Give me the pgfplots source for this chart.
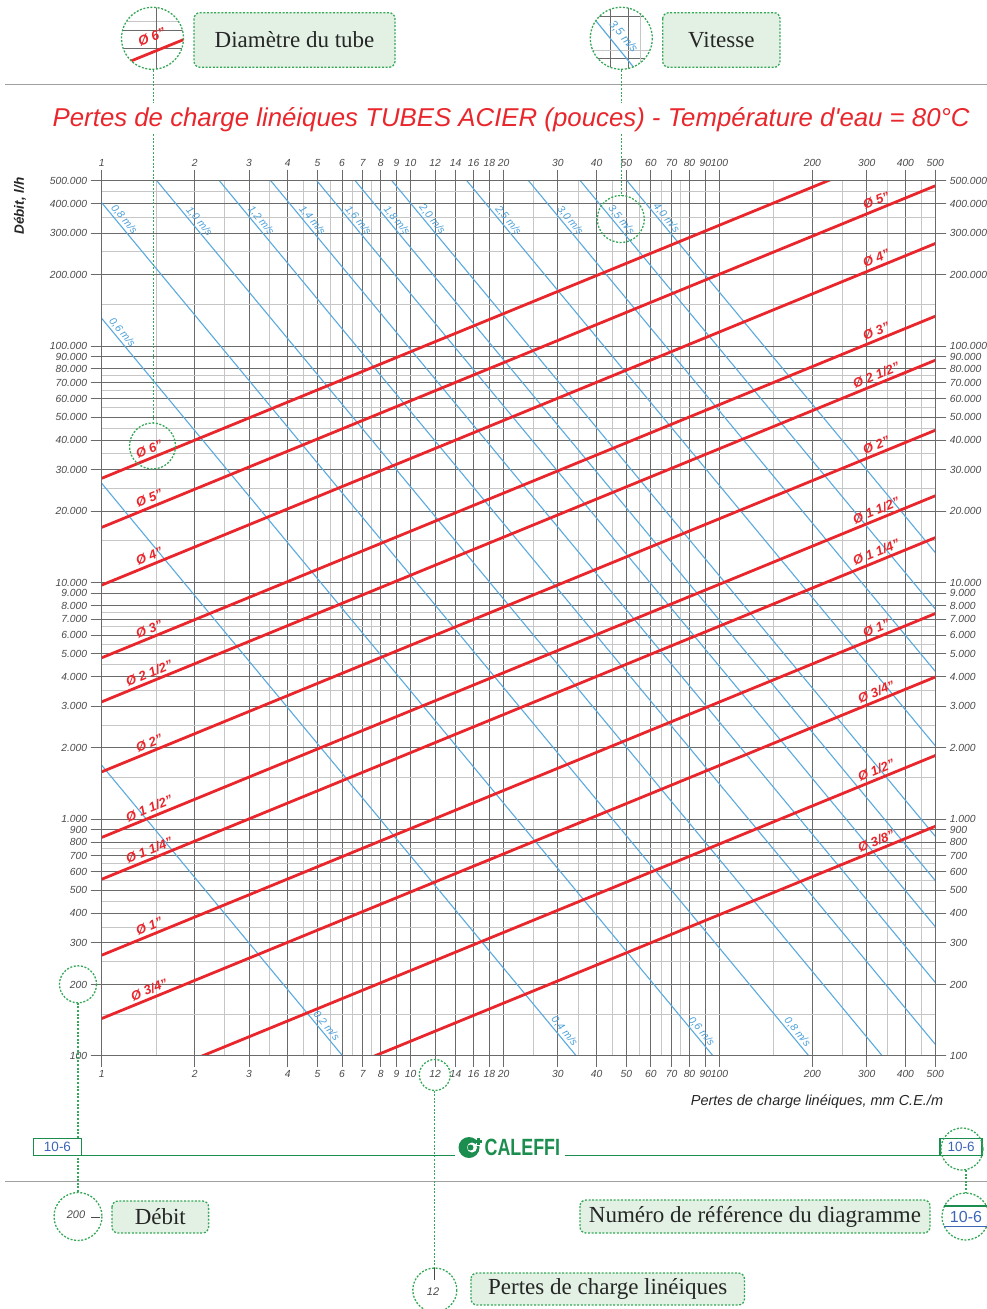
\documentclass[border=0pt]{standalone}
\usepackage{fontspec}
\usepackage{pgfplots}
\pgfplotsset{compat=1.18}
\setmainfont{Liberation Sans}
\newfontfamily\arial{Liberation Sans}
\newfontfamily\tserif{Liberation Serif}
\definecolor{redl}{HTML}{E8262C}
\definecolor{bluel}{HTML}{5AAADF}
\definecolor{bluet}{HTML}{4A9FDA}
\definecolor{gmaj}{HTML}{6A6A6A}
\definecolor{gmin}{HTML}{C6C6C6}
\definecolor{tickc}{HTML}{4A4A4A}
\definecolor{gdash}{HTML}{35A857}
\definecolor{gfill}{HTML}{E3F1E5}
\definecolor{cgreen}{HTML}{1B8E4F}
\definecolor{refblue}{HTML}{3D66B8}
\definecolor{sepgray}{HTML}{A0A0A0}
\tikzset{
  redlab/.style={pos=#1, sloped, above, inner sep=2.5pt, text=redl, font=\arial\bfseries\itshape\fontsize{13}{15}\selectfont},
  bluelab/.style={pos=#1, sloped, above, inner sep=1.5pt, text=bluet, font=\arial\itshape\fontsize{10.5}{12}\selectfont},
  redline/.style={draw=redl, line width=2.8pt},
  blueline/.style={draw=bluel, line width=1.1pt},
  gd/.style={draw=gdash, line width=1.3pt, dash pattern=on 2pt off 1.6pt},
  cbox/.style={gd, fill=gfill, rounded corners=6pt},
}
\begin{document}
\begin{tikzpicture}
\useasboundingbox (0pt,0pt) rectangle (987pt,-1309pt);
\begin{axis}[
    at={(101.7pt,-1055.7pt)}, anchor=south west,
    scale only axis, width=833.6pt, height=875pt,
    xmode=log, ymode=log,
    xmin=1, xmax=500, ymin=100, ymax=500000,
    xtick={1,2,3,4,5,6,7,8,9,10,12,14,16,18,20,30,40,50,60,70,80,90,100,200,300,400,500},
    xticklabels={1,2,3,4,5,6,7,8,9,10,12,14,16,18,20,30,40,50,60,70,80,90,100,200,300,400,500},
    ytick={100,200,300,400,500,600,700,800,900,1000,2000,3000,4000,5000,6000,7000,8000,9000,10000,20000,30000,40000,50000,60000,70000,80000,90000,100000,200000,300000,400000,500000},
    yticklabels={100,200,300,400,500,600,700,800,900,1.000,2.000,3.000,4.000,5.000,6.000,7.000,8.000,9.000,10.000,20.000,30.000,40.000,50.000,60.000,70.000,80.000,90.000,100.000,200.000,300.000,400.000,500.000},
    minor xtick={1.5,2.5,3.5,4.5,5.5,6.5,7.5,25,35,45,55,65,75,150,250,350,450},
    minor ytick={150,250,350,450,550,650,750,1500,2500,3500,4500,5500,6500,7500,15000,25000,35000,45000,55000,65000,75000,150000,250000,350000,450000},
    tick align=outside, tick pos=both,
    major tick length=11pt, minor tick length=0pt,
    axis line style={draw=gmaj, line width=1pt},
    tick style={draw=gmaj, line width=1pt},
    ticklabel style={font=\arial\itshape\fontsize{10.3}{12}\selectfont, text=tickc},
    grid=both,
    major grid style={draw=gmaj, line width=1pt},
    minor grid style={draw=gmin, line width=1pt},
]
% velocity lines
\addplot[blueline] coordinates {(1,1690) (500,0.0948)} node[bluelab=0.2634] {0,2 m/s};
\addplot[blueline] coordinates {(1,26280) (500,1.474)} node[bluelab=0.5489] {0,4 m/s};
\addplot[blueline] coordinates {(1,130900) (500,7.35)} node[bluelab=0.0184] {0,6 m/s} node[bluelab=0.7133] {0,6 m/s};
\addplot[blueline] coordinates {(1,403600) (500,22.6)} node[bluelab=0.0208] {0,8 m/s} node[bluelab=0.8285] {0,8 m/s};
\addplot[blueline] coordinates {(1,955000) (500,53.6)} node[bluelab=0.1108] {1,0 m/s};
\addplot[blueline] coordinates {(1,1990000) (500,111.7)} node[bluelab=0.185] {1,2 m/s};
\addplot[blueline] coordinates {(1,3639000) (500,204)} node[bluelab=0.2464] {1,4 m/s};
\addplot[blueline] coordinates {(1,6252000) (500,351)} node[bluelab=0.3016] {1,6 m/s};
\addplot[blueline] coordinates {(1,9806000) (500,550)} node[bluelab=0.3478] {1,8 m/s};
\addplot[blueline] coordinates {(1,15090000) (500,846)} node[bluelab=0.3904] {2,0 m/s};
\addplot[blueline] coordinates {(1,36390000) (500,2042)} node[bluelab=0.4816] {2,5 m/s};
\addplot[blueline] coordinates {(1,75110000) (500,4214)} node[bluelab=0.556] {3,0 m/s};
\addplot[blueline] coordinates {(1,137900000) (500,7737)} node[bluelab=0.6173] {3,5 m/s};
\addplot[blueline] coordinates {(1,238600000) (500,13390)} node[bluelab=0.6713] {4,0 m/s};
% pipe lines
\addplot[redline] coordinates {(1,27600) (500,767000)} node[redlab=0.0609] {Ø 6”};
\addplot[redline] coordinates {(1,17120) (500,475800)} node[redlab=0.0609] {Ø 5”} node[redlab=0.933] {Ø 5”};
\addplot[redline] coordinates {(1,9760) (500,271300)} node[redlab=0.0609] {Ø 4”} node[redlab=0.933] {Ø 4”};
\addplot[redline] coordinates {(1,4810) (500,133700)} node[redlab=0.0609] {Ø 3”} node[redlab=0.933] {Ø 3”};
\addplot[redline] coordinates {(1,3133) (500,87100)} node[redlab=0.0609] {Ø 2 1/2”} node[redlab=0.933] {Ø 2 1/2”};
\addplot[redline] coordinates {(1,1585) (500,44060)} node[redlab=0.0609] {Ø 2”} node[redlab=0.933] {Ø 2”};
\addplot[redline] coordinates {(1,837) (500,23280)} node[redlab=0.0609] {Ø 1 1/2”} node[redlab=0.933] {Ø 1 1/2”};
\addplot[redline] coordinates {(1,557) (500,15490)} node[redlab=0.0609] {Ø 1 1/4”} node[redlab=0.933] {Ø 1 1/4”};
\addplot[redline] coordinates {(1,266) (500,7400)} node[redlab=0.0609] {Ø 1”} node[redlab=0.933] {Ø 1”};
\addplot[redline] coordinates {(1,143.6) (500,3990)} node[redlab=0.0609] {Ø 3/4”} node[redlab=0.933] {Ø 3/4”};
\addplot[redline] coordinates {(1,66.8) (500,1858)} node[redlab=0.933] {Ø 1/2”};
\addplot[redline] coordinates {(1,33.6) (500,933)} node[redlab=0.933] {Ø 3/8”};
\end{axis}
\begin{axis}[
    at={(101.7pt,-1055.7pt)}, anchor=south west,
    scale only axis, width=833.6pt, height=875pt,
    xmode=log, ymode=log,
    xmin=1, xmax=500, ymin=100, ymax=500000,
    xtick={1,2,3,4,5,6,7,8,9,10,12,14,16,18,20,30,40,50,60,70,80,90,100,200,300,400,500},
    xticklabels={1,2,3,4,5,6,7,8,9,10,12,14,16,18,20,30,40,50,60,70,80,90,100,200,300,400,500},
    ytick={100,200,300,400,500,600,700,800,900,1000,2000,3000,4000,5000,6000,7000,8000,9000,10000,20000,30000,40000,50000,60000,70000,80000,90000,100000,200000,300000,400000,500000},
    yticklabels={100,200,300,400,500,600,700,800,900,1.000,2.000,3.000,4.000,5.000,6.000,7.000,8.000,9.000,10.000,20.000,30.000,40.000,50.000,60.000,70.000,80.000,90.000,100.000,200.000,300.000,400.000,500.000},
    minor xtick={}, minor ytick={},
    tick align=outside, tick pos=both,
    major tick length=11pt, minor tick length=0pt,
    axis line style={draw=gmaj, line width=1pt},
    tick style={draw=gmaj, line width=1pt},
    ticklabel style={font=\arial\itshape\fontsize{10.3}{12}\selectfont, text=tickc},
    xticklabel pos=right, yticklabel pos=right,
]
\addplot[draw=none] coordinates {(1,100)};
\end{axis}
\begin{scope}[x=1pt,y=-1pt]
% separators
\draw[sepgray, line width=1.2pt] (5,84.3) -- (987,84.3);
\draw[sepgray, line width=1.2pt] (5,1181.7) -- (987,1181.7);
% title
\node[anchor=base, inner sep=0pt, text=redl, font=\arial\itshape\fontsize{25.8}{30}\selectfont] at (511.2,126.7) {Pertes de charge linéiques TUBES ACIER (pouces) - Température d'eau = 80°C};
% axis titles
\node[rotate=90, inner sep=0pt, text=black!85, font=\arial\bfseries\itshape\fontsize{13.5}{16}\selectfont] at (20,206) {Débit, l/h};
\node[anchor=base east, inner sep=0pt, text=black!85, font=\arial\itshape\fontsize{14.5}{17}\selectfont] at (943.3,1105.3) {Pertes de charge linéiques, mm C.E./m};
% dashed leader lines
\draw[gd] (153.3,70) -- (153.3,103);
\draw[gd] (153.3,134) -- (153.3,423);
\draw[gd] (621.5,70) -- (621.5,103);
\draw[gd] (621.5,134) -- (621.5,195.5);
\draw[gd] (152.5,446) circle (23);
\draw[gd] (620.8,219) circle (23.5);
\draw[gd] (78,984.3) circle (18.5);
\draw[gd] (434.8,1075) circle (15.5);
\draw[gd] (78,1002.8) -- (78,1193);
\draw[gd] (434.8,1090.5) -- (434.8,1268);
\draw[gd] (966,1170) -- (966,1193);
% top icon 1
\begin{scope}
\clip (152.5,38.3) circle (31);
\draw[gmin, line width=1pt] (115,21) -- (190,21);
\draw[gmaj, line width=1pt] (115,30) -- (190,30) (115,48.3) -- (190,48.3) (156.7,0) -- (156.7,75);
\draw[redl, line width=2.8pt] (115,67.5) -- (190,37);
\node[rotate=22.3, inner sep=0pt, text=redl, font=\arial\bfseries\itshape\fontsize{13.5}{15}\selectfont] at (151.7,37) {Ø 6”};
\end{scope}
\draw[gd] (152.5,38.3) circle (31);
% top icon 2
\begin{scope}
\clip (621.3,38.3) circle (31);
\draw[gmaj, line width=1pt] (610,0) -- (610,75) (628.3,0) -- (628.3,75) (585,16.7) -- (660,16.7) (585,58.3) -- (660,58.3);
\draw[gmin, line width=1pt] (585,50) -- (660,50) (640,0) -- (640,75);
\draw[bluel, line width=1.2pt] (585,7.4) -- (650,87.3);
\node[rotate=-50.35, inner sep=0pt, text=bluet, font=\arial\itshape\fontsize{11.5}{13}\selectfont] at (623.3,36.7) {3,5 m/s};
\end{scope}
\draw[gd] (621.3,38.3) circle (31);
% top boxes
\draw[cbox] (194,12.7) rectangle (395,67.3);
\node[font=\tserif\fontsize{23}{26}\selectfont, text=black!85] at (294.5,40) {Diamètre du tube};
\draw[cbox] (662.7,12.7) rectangle (780,67.3);
\node[font=\tserif\fontsize{23}{26}\selectfont, text=black!85] at (721.3,40) {Vitesse};
% footer band
\draw[cgreen, line width=1.3pt] (33.6,1155.7) -- (455,1155.7);
\draw[cgreen, line width=1.3pt] (564.6,1155.7) -- (940,1155.7);
\draw[cgreen, line width=1.1pt, fill=white] (33.6,1138.3) rectangle (81.4,1155.7);
\node[text=refblue, font=\arial\fontsize{13.5}{15}\selectfont] at (57.5,1147) {10-6};
\draw[cgreen, line width=1.1pt, fill=white] (940,1138.3) rectangle (982,1155.7);
\node[text=refblue, font=\arial\fontsize{13.5}{15}\selectfont] at (961,1147) {10-6};
\draw[gd] (962,1149) circle (21);
% logo
\fill[cgreen] (469,1147.5) circle (10.5);
\fill[white] (472,1147.5) circle (5);
\fill[cgreen] (470.5,1147.5) circle (3);
\fill[white] (476,1135.5) rectangle (481.5,1146);
\fill[cgreen] (477.4,1137.8) rectangle (480,1144.6);
\fill[cgreen] (475.5,1139.9) rectangle (481.8,1142.5);
\node[anchor=west, inner sep=0pt, text=cgreen, font=\arial\bfseries\fontsize{23.5}{26}\selectfont] at (484.5,1147.5) {\scalebox{0.76}[1]{CALEFFI}};
% bottom callouts
\draw[gd] (78,1216.5) circle (24);
\node[text=tickc, font=\arial\itshape\fontsize{11}{13}\selectfont] at (76,1215) {200};
\draw[tickc, line width=0.9pt] (91,1217.5) -- (100,1217.5);
\draw[cbox] (112,1201) rectangle (208.6,1233);
\node[font=\tserif\fontsize{23}{26}\selectfont, text=black!85] at (160.3,1217) {Débit};
\draw[cbox] (580,1200) rectangle (930,1233);
\node[font=\tserif\fontsize{23}{26}\selectfont, text=black!85] at (755,1216.5) {Numéro de référence du diagramme};
\draw[gd] (965.5,1216.5) circle (23.5);
\draw[cgreen, line width=1.1pt] (944,1206) -- (987,1206);
\draw[refblue, line width=0.8pt] (944,1226) -- (987,1226);
\node[text=refblue, font=\arial\fontsize{16}{18}\selectfont] at (966,1216.5) {10-6};
\draw[gd] (434.8,1290) circle (22);
\draw[tickc, line width=0.8pt] (434.8,1268) -- (434.8,1280);
\node[text=tickc, font=\arial\itshape\fontsize{11}{13}\selectfont] at (433,1292) {12};
\draw[cbox] (471,1273) rectangle (744.5,1305);
\node[font=\tserif\fontsize{23}{26}\selectfont, text=black!85] at (607.7,1288.5) {Pertes de charge linéiques};
\end{scope}
\end{tikzpicture}
\end{document}
